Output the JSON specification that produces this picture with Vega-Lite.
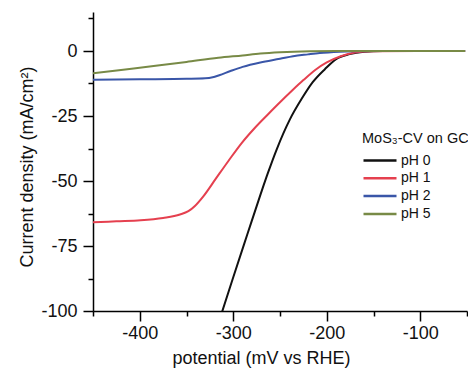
{
  "$schema": "https://vega.github.io/schema/vega-lite/v6.json",
  "width": 374,
  "height": 299,
  "autosize": {"type": "none"},
  "padding": {"left": 93, "top": 12, "right": 1, "bottom": 60},
  "config": {
    "font": "Liberation Sans",
    "view": {"stroke": null},
    "axis": {"grid": false, "domainColor": "#000", "domainWidth": 1.5, "tickColor": "#000", "tickWidth": 1.5, "labelColor": "#111", "titleColor": "#111", "labelFontSize": 18, "titleFontSize": 18, "titleFontWeight": "normal", "labelFont": "Liberation Sans", "titleFont": "Liberation Sans"}
  },
  "data": {
    "values": [
      {"pH": "pH 0", "potential": -313, "current": -101.5},
      {"pH": "pH 0", "potential": -300, "current": -87},
      {"pH": "pH 0", "potential": -285, "current": -70.6},
      {"pH": "pH 0", "potential": -270, "current": -54.3},
      {"pH": "pH 0", "potential": -263, "current": -47},
      {"pH": "pH 0", "potential": -253.5, "current": -37.8},
      {"pH": "pH 0", "potential": -239.4, "current": -26.3},
      {"pH": "pH 0", "potential": -227, "current": -18.5},
      {"pH": "pH 0", "potential": -215, "current": -12},
      {"pH": "pH 0", "potential": -202, "current": -7},
      {"pH": "pH 0", "potential": -190, "current": -3.1},
      {"pH": "pH 0", "potential": -175.5, "current": -1.2},
      {"pH": "pH 0", "potential": -160, "current": -0.3},
      {"pH": "pH 0", "potential": -140, "current": 0},
      {"pH": "pH 0", "potential": -52, "current": 0},
      {"pH": "pH 1", "potential": -450, "current": -65.9},
      {"pH": "pH 1", "potential": -425, "current": -65.5},
      {"pH": "pH 1", "potential": -399, "current": -65.1},
      {"pH": "pH 1", "potential": -375, "current": -64.2},
      {"pH": "pH 1", "potential": -357, "current": -62.9},
      {"pH": "pH 1", "potential": -348, "current": -61.6},
      {"pH": "pH 1", "potential": -341, "current": -59.6},
      {"pH": "pH 1", "potential": -332, "current": -55.9},
      {"pH": "pH 1", "potential": -319, "current": -49.3},
      {"pH": "pH 1", "potential": -305, "current": -42.2},
      {"pH": "pH 1", "potential": -291, "current": -35.4},
      {"pH": "pH 1", "potential": -277, "current": -29.6},
      {"pH": "pH 1", "potential": -263, "current": -24.4},
      {"pH": "pH 1", "potential": -250, "current": -19.7},
      {"pH": "pH 1", "potential": -237, "current": -15.2},
      {"pH": "pH 1", "potential": -225, "current": -11.2},
      {"pH": "pH 1", "potential": -212, "current": -7.2},
      {"pH": "pH 1", "potential": -200, "current": -4.4},
      {"pH": "pH 1", "potential": -185, "current": -2},
      {"pH": "pH 1", "potential": -170, "current": -0.6},
      {"pH": "pH 1", "potential": -150, "current": -0.05},
      {"pH": "pH 1", "potential": -52, "current": 0},
      {"pH": "pH 2", "potential": -450, "current": -11.1},
      {"pH": "pH 2", "potential": -400, "current": -10.9},
      {"pH": "pH 2", "potential": -350, "current": -10.7},
      {"pH": "pH 2", "potential": -330, "current": -10.5},
      {"pH": "pH 2", "potential": -322, "current": -10.1},
      {"pH": "pH 2", "potential": -315, "current": -9.3},
      {"pH": "pH 2", "potential": -303, "current": -7.7},
      {"pH": "pH 2", "potential": -290, "current": -6.1},
      {"pH": "pH 2", "potential": -271, "current": -4.4},
      {"pH": "pH 2", "potential": -250, "current": -3},
      {"pH": "pH 2", "potential": -236, "current": -2},
      {"pH": "pH 2", "potential": -220, "current": -1.3},
      {"pH": "pH 2", "potential": -207.5, "current": -0.8},
      {"pH": "pH 2", "potential": -186, "current": -0.3},
      {"pH": "pH 2", "potential": -170, "current": -0.1},
      {"pH": "pH 2", "potential": -150, "current": 0},
      {"pH": "pH 2", "potential": -52, "current": 0},
      {"pH": "pH 5", "potential": -450, "current": -8.6},
      {"pH": "pH 5", "potential": -420, "current": -7.3},
      {"pH": "pH 5", "potential": -383, "current": -5.7},
      {"pH": "pH 5", "potential": -350, "current": -4.2},
      {"pH": "pH 5", "potential": -316, "current": -2.6},
      {"pH": "pH 5", "potential": -290, "current": -1.7},
      {"pH": "pH 5", "potential": -271, "current": -1},
      {"pH": "pH 5", "potential": -250, "current": -0.5},
      {"pH": "pH 5", "potential": -218, "current": -0.1},
      {"pH": "pH 5", "potential": -190, "current": 0},
      {"pH": "pH 5", "potential": -52, "current": 0}
    ]
  },
  "mark": {"type": "line", "strokeWidth": 2, "interpolate": "monotone", "clip": true},
  "encoding": {
    "x": {
      "field": "potential", "type": "quantitative",
      "scale": {"domain": [-450, -50], "nice": false, "zero": false},
      "axis": {
        "title": "potential (mV vs RHE)",
        "values": [-450, -400, -350, -300, -250, -200, -150, -100, -50],
        "labelExpr": "datum.value % 100 === 0 ? '' + datum.value : ''",
        "tickSize": {"condition": {"test": "datum.value % 100 === 0", "value": 10}, "value": 5},
        "labelPadding": 3,
        "labelFlush": false,
        "titleX": 168,
        "titleY": 38,
        "titleAnchor": null
      }
    },
    "y": {
      "field": "current", "type": "quantitative",
      "scale": {"domain": [-100, 15], "nice": false, "zero": false},
      "axis": {
        "title": "Current density (mA/cm²)",
        "values": [-100, -87.5, -75, -62.5, -50, -37.5, -25, -12.5, 0, 12.5],
        "labelExpr": "datum.value % 25 === 0 ? '' + datum.value : ''",
        "tickSize": {"condition": {"test": "datum.value % 25 === 0", "value": 10}, "value": 5},
        "labelPadding": 6,
        "labelFlush": false,
        "titleX": -66,
        "titleY": 154.5,
        "titleBaseline": "middle"
      }
    },
    "color": {
      "field": "pH", "type": "nominal",
      "scale": {"domain": ["pH 0", "pH 1", "pH 2", "pH 5"], "range": ["#111111", "#e5404f", "#3a56a8", "#788a46"]},
      "legend": {
        "title": "MoS₃-CV on GC",
        "orient": "none",
        "legendX": 269,
        "legendY": 120,
        "padding": 0,
        "titleFontSize": 14.5,
        "titleFontWeight": "normal",
        "titleColor": "#111",
        "titlePadding": 7,
        "labelFontSize": 14,
        "labelColor": "#111",
        "symbolType": "M-1,0H5",
        "symbolSize": 121,
        "symbolStrokeWidth": 2.5,
        "labelOffset": 25,
        "rowPadding": 3.8
      }
    }
  }
}
